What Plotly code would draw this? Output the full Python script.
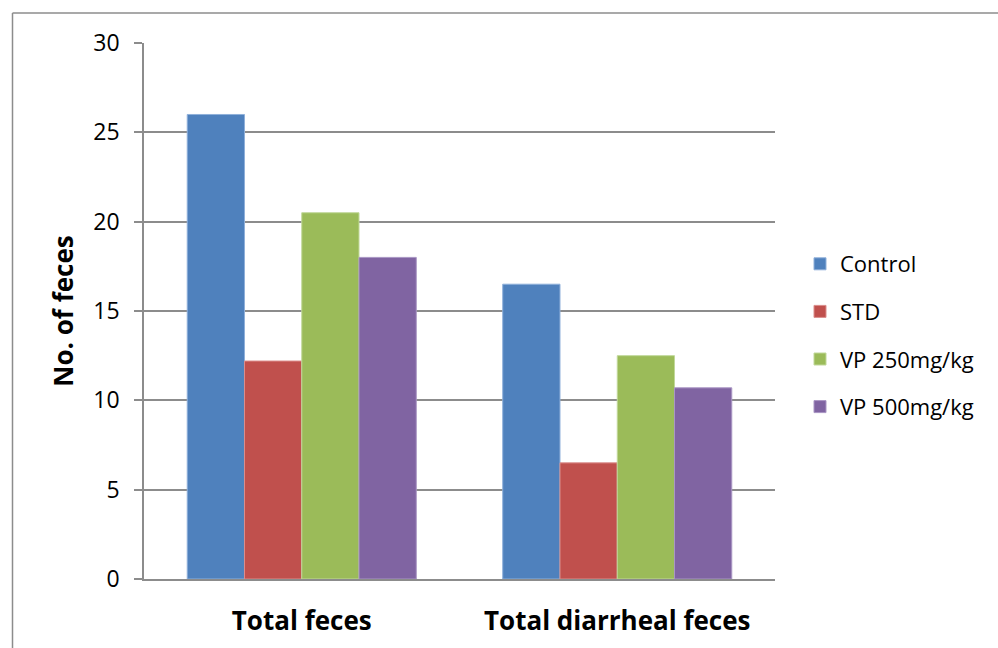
import plotly.graph_objects as go

# Faecal output per treatment group
categories = ["Total feces", "Total diarrheal feces"]
groups = ["Control", "STD", "VP 250mg/kg", "VP 500mg/kg"]
control = [26.0, 16.5]
std = [12.2, 6.5]
vp250 = [20.5, 12.5]
vp500 = [18.0, 10.7]
y_ticks = [0, 5, 10, 15, 20, 25, 30]

series = [control, std, vp250, vp500]
colors = ["#4F81BD", "#C0504D", "#9BBB59", "#8064A2"]
edges = ["#8FB0DA", "#DB8E8C", "#C1D89A", "#A996C4"]

FONT = "Open Sans, Noto Sans, sans-serif"

fig = go.Figure()
for name, vals, col, edge in zip(groups, series, colors, edges):
    fig.add_trace(go.Bar(
        x=categories, y=vals, name=name, legendgroup=name,
        marker=dict(color=col, line=dict(color=edge, width=1)),
    ))

W, H = 998, 648
L, R, T, B = 144, 223, 43, 69
pw, ph = W - L - R, H - T - B

def px(x):
    return (x - L) / pw

def py(y):
    return (H - B - y) / ph

frame = "#8C8C8C"
fig.add_shape(type="line", xref="paper", yref="paper",
              x0=px(12.5), x1=px(1005), y0=py(13), y1=py(13),
              line=dict(color=frame, width=1.5))
fig.add_shape(type="line", xref="paper", yref="paper",
              x0=px(12.5), x1=px(12.5), y0=py(13), y1=py(660),
              line=dict(color=frame, width=1.5))

fig.update_layout(
    width=W, height=H,
    margin=dict(l=L, r=R, t=T, b=B, autoexpand=False),
    paper_bgcolor="white", plot_bgcolor="white",
    barmode="group", bargap=0.274, bargroupgap=0,
    font=dict(family=FONT, color="black"),
    showlegend=True,
    legend=dict(
        x=px(800), y=py(243), xanchor="left", yanchor="top",
        font=dict(size=22, family=FONT, color="black"),
        tracegroupgap=16, itemwidth=30,
        bgcolor="rgba(0,0,0,0)",
    ),
)

fig.update_xaxes(
    showline=True, linecolor=frame, linewidth=1.5,
    showgrid=False, ticks="", ticklabelstandoff=18, automargin=False,
    tickfont=dict(size=26, family=FONT, color="black", weight="bold"),
    zeroline=False,
)
fig.update_yaxes(
    range=[0, 30], tickvals=y_ticks,
    showline=True, linecolor=frame, linewidth=1.5,
    showgrid=True, gridcolor=frame, gridwidth=1.5,
    ticks="outside", ticklen=8, tickcolor=frame, tickwidth=1.5,
    ticklabelstandoff=10, automargin=False,
    tickfont=dict(size=23, family=FONT, color="black"),
    title=dict(text="No. of feces", standoff=12,
               font=dict(size=26, family=FONT, color="black", weight="bold")),
    zeroline=False,
)

fig.write_html("out.html")
